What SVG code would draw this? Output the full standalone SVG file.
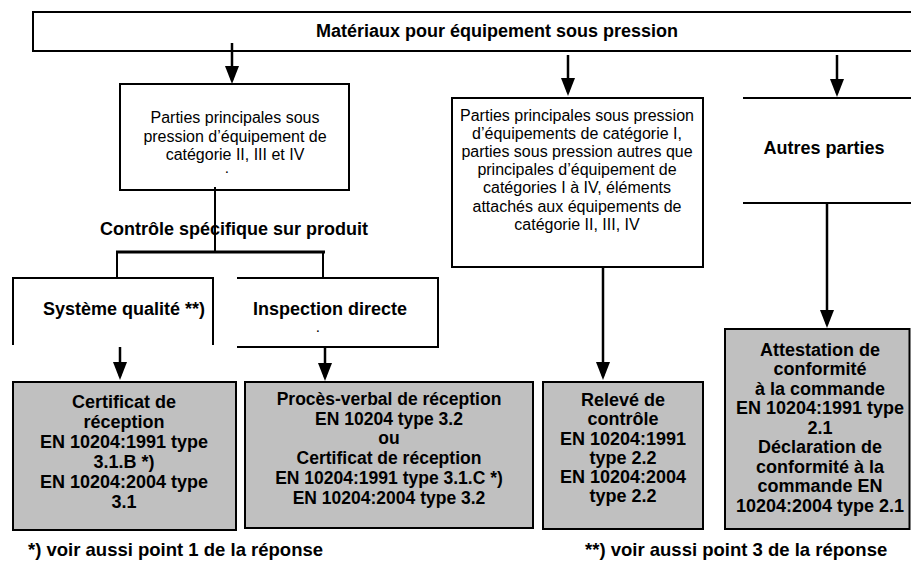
<svg xmlns="http://www.w3.org/2000/svg" width="911" height="561" viewBox="0 0 911 561">
<style>
  .box { fill: #ffffff; stroke: #000; stroke-width: 2; }
  .grey { fill: #c0c0c0; stroke: #000; stroke-width: 2; }
  .ln { fill: none; stroke: #000; stroke-width: 2; }
  .conn { fill: none; stroke: #000; stroke-width: 2.5; }
  .reg { font-family: "Liberation Sans", Arial, sans-serif; font-size: 16px; fill: #000; text-anchor: middle; }
  .bold { font-family: "Liberation Sans", Arial, sans-serif; font-size: 18px; font-weight: bold; fill: #000; text-anchor: middle; }
  .b175 { font-size: 17.5px; }
  .dot { font-family: "Liberation Sans", Arial, sans-serif; font-size: 10px; font-weight: bold; fill: #000; text-anchor: middle; }
  .note { font-family: "Liberation Sans", Arial, sans-serif; font-size: 18.5px; font-weight: bold; fill: #000; }
</style>
<defs>
  <marker id="ah" markerUnits="userSpaceOnUse" viewBox="0 0 18 14" markerWidth="18" markerHeight="14" refX="14" refY="7" orient="auto">
    <path d="M0,0 L18,7 L0,14 z" fill="#000"/>
  </marker>
</defs>
<rect width="911" height="561" fill="#ffffff"/>

<g id="top">
  <rect class="box" x="33" y="12" width="900" height="39"/>
  <text class="bold" x="497" y="37">Matériaux pour équipement sous pression</text>
</g>

<g id="cat234">
  <rect class="box" x="120" y="84" width="229" height="106"/>
  <text class="reg" x="235" y="123">Parties principales sous</text>
  <text class="reg" x="235" y="141.5">pression d’équipement de</text>
  <text class="reg" x="235" y="160">catégorie II, III et IV</text>
  <text class="dot" x="227" y="173">.</text>
</g>

<g id="controle">
  <text class="bold" x="234" y="235">Contrôle spécifique sur produit</text>
</g>

<g id="cat1">
  <rect class="box" x="452" y="98" width="251" height="169"/>
  <text class="reg" x="577" y="120.5">Parties principales sous pression</text>
  <text class="reg" x="577" y="138.7">d’équipements de catégorie I,</text>
  <text class="reg" x="577" y="156.9">parties sous pression autres que</text>
  <text class="reg" x="577" y="175.1">principales d’équipement de</text>
  <text class="reg" x="577" y="193.3">catégories I à IV, éléments</text>
  <text class="reg" x="577" y="211.5">attachés aux équipements de</text>
  <text class="reg" x="577" y="229.7">catégorie II, III, IV</text>
</g>

<g id="autres">
  <path class="ln" d="M743,98 H911 M743,203 H911"/>
  <text class="bold" x="824" y="154">Autres parties</text>
</g>

<g id="qualite">
  <path class="ln" d="M13,345 V278 H213 V345"/>
  <text class="bold" x="124" y="315">Système qualité **)</text>
</g>

<g id="inspection">
  <path class="ln" d="M237,278 H438 V347 H237"/>
  <text class="bold" x="330" y="315">Inspection directe</text>
  <text class="dot" x="318" y="332">.</text>
</g>

<g id="certA">
  <rect class="grey" x="13" y="382" width="223" height="148"/>
  <text class="bold" x="124" y="408">Certificat de</text>
  <text class="bold" x="124" y="428">réception</text>
  <text class="bold" x="124" y="448">EN 10204:1991 type</text>
  <text class="bold" x="124" y="468">3.1.B *)</text>
  <text class="bold" x="124" y="488">EN 10204:2004 type</text>
  <text class="bold" x="124" y="508">3.1</text>
</g>

<g id="certB">
  <rect class="grey" x="245" y="382" width="288" height="146"/>
  <text class="bold b175" x="389" y="405">Procès-verbal de réception</text>
  <text class="bold b175" x="389" y="424.7">EN 10204 type 3.2</text>
  <text class="bold b175" x="389" y="444.4">ou</text>
  <text class="bold b175" x="389" y="464.1">Certificat de réception</text>
  <text class="bold b175" x="389" y="483.8">EN 10204:1991 type 3.1.C *)</text>
  <text class="bold b175" x="389" y="503.5">EN 10204:2004 type 3.2</text>
</g>

<g id="releve">
  <rect class="grey" x="543" y="382" width="160" height="147"/>
  <text class="bold" x="623" y="405.5">Relevé de</text>
  <text class="bold" x="623" y="425">contrôle</text>
  <text class="bold" x="623" y="444.5">EN 10204:1991</text>
  <text class="bold" x="623" y="464">type 2.2</text>
  <text class="bold" x="623" y="483">EN 10204:2004</text>
  <text class="bold" x="623" y="502">type 2.2</text>
</g>

<g id="attestation">
  <rect class="grey" x="725" y="329" width="184.5" height="200"/>
  <text class="bold" x="820" y="355.5">Attestation de</text>
  <text class="bold" x="820" y="375">conformité</text>
  <text class="bold" x="820" y="394.5">à la commande</text>
  <text class="bold" x="820" y="414">EN 10204:1991 type</text>
  <text class="bold" x="820" y="433.5">2.1</text>
  <text class="bold" x="820" y="453">Déclaration de</text>
  <text class="bold" x="820" y="472.5">conformité à la</text>
  <text class="bold" x="820" y="492">commande EN</text>
  <text class="bold" x="820" y="511.5">10204:2004 type 2.1</text>
</g>

<g id="notes">
  <text class="note" x="28" y="556">*) voir aussi point 1 de la réponse</text>
  <text class="note" x="585" y="556">**) voir aussi point 3 de la réponse</text>
</g>

<g id="connectors">
  <line class="conn" x1="232" y1="43" x2="232" y2="80" marker-end="url(#ah)"/>
  <line class="conn" x1="568" y1="55" x2="568" y2="92" marker-end="url(#ah)"/>
  <line class="conn" x1="837" y1="55" x2="837" y2="93" marker-end="url(#ah)"/>
  <line class="ln" x1="215" y1="187" x2="215" y2="252"/>
  <line class="conn" x1="116" y1="252" x2="325" y2="252" style="stroke-width:3"/>
  <line class="ln" x1="117" y1="252" x2="117" y2="278"/>
  <line class="ln" x1="323" y1="252" x2="323" y2="278"/>
  <line class="conn" x1="120" y1="347" x2="120" y2="376" marker-end="url(#ah)"/>
  <line class="conn" x1="325" y1="347" x2="325" y2="377" marker-end="url(#ah)"/>
  <line class="conn" x1="603" y1="267" x2="603" y2="376" marker-end="url(#ah)"/>
  <line class="conn" x1="827" y1="203" x2="827" y2="324" marker-end="url(#ah)"/>
</g>
</svg>
